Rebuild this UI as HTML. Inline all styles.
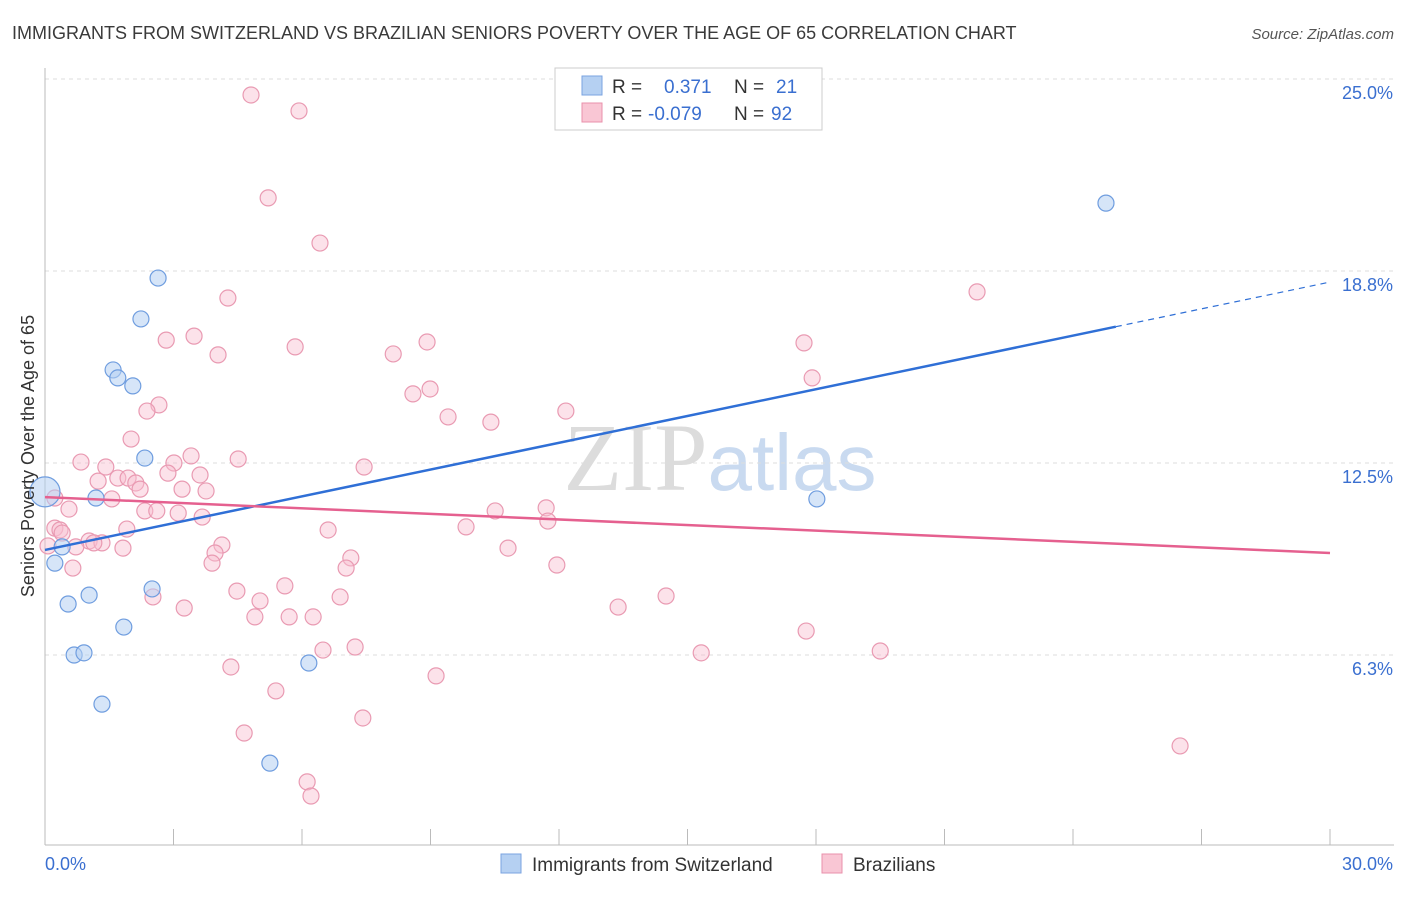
<!DOCTYPE html>
<html><head><meta charset="utf-8">
<style>
body{margin:0;background:#fff;font-family:"Liberation Sans",sans-serif;}
svg text{font-family:"Liberation Sans",sans-serif;}
</style></head>
<body>
<svg id="chart" width="1406" height="892" xmlns="http://www.w3.org/2000/svg">
<text x="12" y="39" font-size="18" fill="#3a3a3a">IMMIGRANTS FROM SWITZERLAND VS BRAZILIAN SENIORS POVERTY OVER THE AGE OF 65 CORRELATION CHART</text>
<text x="1394" y="39" font-size="15" fill="#555" text-anchor="end" font-style="italic">Source: ZipAtlas.com</text>
<text x="720" y="490" font-size="96" text-anchor="middle"><tspan fill="#dcdcdc" font-family="Liberation Serif">ZIP</tspan><tspan fill="#c9daf0" font-size="80">atlas</tspan></text>
<g id="grid"></g>
<g id="axes"></g>
<g id="pts"></g>
<g id="lines"></g>
<text transform="translate(34,456) rotate(-90)" font-size="18" fill="#333" text-anchor="middle">Seniors Poverty Over the Age of 65</text>
<g>
<rect x="555" y="68" width="267" height="62" fill="#fff" stroke="#ccc"/>
<rect x="582" y="76" width="20" height="19" fill="#b5d0f2" stroke="#7aa3e0"/>
<rect x="582" y="103" width="20" height="19" fill="#f9c6d4" stroke="#e990ab"/>
<text x="612" y="93" font-size="19" fill="#333">R = </text><text x="664" y="93" font-size="19" fill="#3a6fd0">0.371</text>
<text x="734" y="93" font-size="19" fill="#333">N = </text><text x="776" y="93" font-size="19" fill="#3a6fd0">21</text>
<text x="612" y="120" font-size="19" fill="#333">R = </text><text x="648" y="120" font-size="19" fill="#3a6fd0">-0.079</text>
<text x="734" y="120" font-size="19" fill="#333">N = </text><text x="771" y="120" font-size="19" fill="#3a6fd0">92</text>
</g>
<g>
<rect x="501" y="854" width="20" height="19" fill="#b5d0f2" stroke="#7aa3e0"/>
<text x="532" y="871" font-size="19" fill="#333">Immigrants from Switzerland</text>
<rect x="822" y="854" width="20" height="19" fill="#f9c6d4" stroke="#e990ab"/>
<text x="853" y="871" font-size="19" fill="#333">Brazilians</text>
</g>
</svg>
<script>
const yTicks=[6.25,12.5,18.75,25];
const yTickLabels=["6.3%","12.5%","18.8%","25.0%"];
const xTickCount=[0,3,6,9,12,15,18,21,24,27,30];
const xEndLabels=["0.0%","30.0%"];
const swissX=[0,0.23,0.40,0.54,0.68,0.91,1.03,1.19,1.33,1.59,1.70,1.84,2.05,2.24,2.33,2.50,2.64,5.25,6.16,18.02,24.77];
const swissY=[11.56,9.24,9.77,7.91,6.25,6.32,8.20,11.36,4.65,15.53,15.27,7.16,15.01,17.19,12.66,8.40,18.52,2.73,5.99,11.33,20.96];
const brazX=[4.81,5.93,5.21,6.42,4.27,21.76,2.83,3.48,4.04,5.84,8.13,8.92,17.72,17.91,8.59,8.99,2.66,2.38,9.41,10.41,12.16,2.01,0.84,1.42,3.41,3.01,4.51,7.45,1.70,1.94,1.24,2.12,2.22,2.87,3.62,3.20,3.76,0.23,1.56,0.56,2.33,2.61,3.11,3.67,10.51,11.70,11.74,9.83,0.23,0.35,0.40,1.91,6.61,1.03,1.33,0.07,0.72,1.14,1.82,4.13,10.81,3.97,7.14,3.90,7.03,11.95,0.65,5.60,4.48,2.52,5.02,6.89,14.50,3.25,13.38,4.90,5.70,6.26,17.77,6.49,7.24,15.32,19.50,4.34,9.13,5.39,7.42,4.65,26.50,6.12,6.21];
const brazY=[24.48,23.96,21.13,19.66,17.87,18.07,16.50,16.63,16.02,16.28,16.05,16.44,16.41,15.27,14.75,14.91,14.39,14.19,14.00,13.83,14.19,13.28,12.53,12.37,12.73,12.50,12.63,12.37,12.01,12.01,11.91,11.85,11.65,12.17,12.11,11.65,11.59,11.36,11.33,11.00,10.94,10.94,10.87,10.74,10.94,11.04,10.61,10.42,10.38,10.32,10.22,10.35,10.32,9.96,9.90,9.80,9.77,9.90,9.73,9.83,9.73,9.57,9.41,9.24,9.08,9.18,9.08,8.50,8.33,8.14,8.01,8.14,8.17,7.78,7.81,7.49,7.49,7.49,7.03,6.41,6.51,6.32,6.38,5.86,5.57,5.08,4.20,3.71,3.29,2.12,1.66];
const swissTrend=[9.67,18.39];
const brazTrend=[11.39,9.57];
const NS="http://www.w3.org/2000/svg";
const X=v=>45+v*1285/30, Y=v=>847-v*30.72;
function mk(tag,at,parent){const e=document.createElementNS(NS,tag);for(const k in at)e.setAttribute(k,at[k]);document.getElementById(parent).appendChild(e);return e;}
yTicks.forEach((t,i)=>{
 const l=mk('line',{x1:45,x2:1394,y1:Y(t),y2:Y(t),stroke:'#ddd','stroke-dasharray':'4,4'},'grid');
 
 
 const tx=mk('text',{x:1393,y:Y(t)+20,'font-size':18,fill:'#3a6fd0','text-anchor':'end'},'grid');
 tx.textContent=yTickLabels[i];
 
 
});
const ax=mk('line',{x1:45,x2:45,y1:68,y2:845,stroke:'#bbb'},'axes');


const bx=mk('line',{x1:45,x2:1394,y1:845,y2:845,stroke:'#bbb'},'axes');


xTickCount.forEach(t=>{
 const l=mk('line',{x1:X(t),x2:X(t),y1:829,y2:845,stroke:'#bbb'},'axes');
 
 
});
[0,30].forEach((t,i)=>{
 const tx=mk('text',{x:i?1393:45,y:870,'font-size':18,fill:'#3a6fd0','text-anchor':i?'end':'start'},'axes');
 tx.textContent=xEndLabels[i];
 
 
});
brazX.forEach((v,i)=>{
 const c=mk('circle',{cx:X(v),cy:Y(brazY[i]),r:8,fill:'rgba(249,190,208,0.45)',stroke:'#e99ab2','stroke-width':1.2},'pts');
 
 
});
swissX.forEach((v,i)=>{
 const c=mk('circle',{cx:X(v),cy:Y(swissY[i]),r:i==0?15:8,fill:'rgba(181,208,242,0.55)',stroke:'#6f9ddf','stroke-width':1.2},'pts');
 
 
});
const sy=x=>swissTrend[0]+(swissTrend[1]-swissTrend[0])*x/30;
const l1=mk('line',{x1:X(0),y1:Y(sy(0)),x2:X(25),y2:Y(sy(25)),stroke:'#2f6fd6','stroke-width':2.5},'lines');


const l2=mk('line',{x1:X(25),y1:Y(sy(25)),x2:X(30),y2:Y(sy(30)),stroke:'#2f6fd6','stroke-width':1.2,'stroke-dasharray':'6,5'},'lines');


const l3=mk('line',{x1:X(0),y1:Y(brazTrend[0]),x2:X(30),y2:Y(brazTrend[1]),stroke:'#e5608f','stroke-width':2.5},'lines');


</script>
</body></html>
